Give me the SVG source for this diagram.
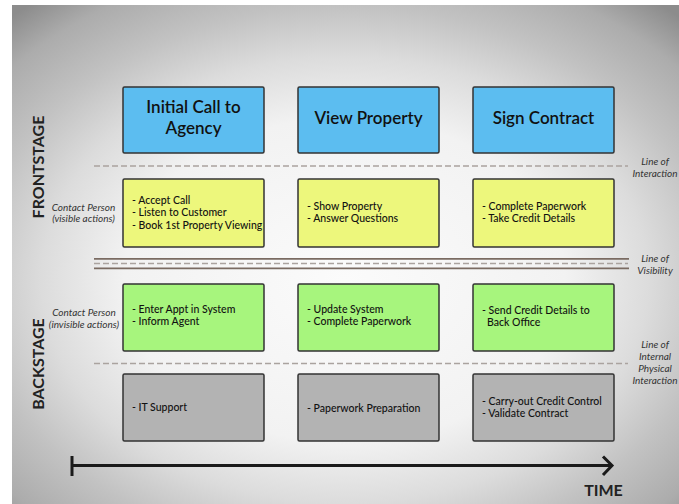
<svg xmlns="http://www.w3.org/2000/svg" width="679" height="504" viewBox="0 0 679 504">
<defs>
<radialGradient id="bg" gradientUnits="userSpaceOnUse" cx="345" cy="280" r="360" gradientTransform="translate(345 280) scale(1.36 1) translate(-345 -280)">
<stop offset="0" stop-color="#fbfbfb"/>
<stop offset="0.45" stop-color="#f2f2f2"/>
<stop offset="0.62" stop-color="#dcdcdc"/>
<stop offset="0.76" stop-color="#c2c2c2"/>
<stop offset="0.9" stop-color="#acacac"/>
<stop offset="1" stop-color="#8c8c8c"/>
</radialGradient>
<style>
.box{stroke:#333;stroke-width:1.5}
.blue{fill:#5cbdf0}
.yel{fill:#edf77c}
.grn{fill:#a7f57d}
.gry{fill:#b3b3b3}
.title{font-family:Lato,"Open Sans",sans-serif;font-size:17px;font-weight:600;fill:#111;text-anchor:middle}
.item{font-family:Lato,"Open Sans",sans-serif;font-size:10.5px;font-weight:500;fill:#111}
.lab{font-family:Lato,"Open Sans",sans-serif;font-size:10px;font-style:italic;fill:#333;text-anchor:middle}
.stage{font-family:Lato,"Open Sans",sans-serif;font-size:16px;font-weight:bold;fill:#222;text-anchor:middle}
.dash{stroke:#aaa39f;stroke-width:1.5;stroke-dasharray:6 3;fill:none}
.solid{stroke:#7a6b62;stroke-width:1.8;fill:none}
</style>
</defs>
<rect x="0" y="0" width="679" height="504" fill="#ffffff"/>
<rect x="12" y="5" width="667" height="499" fill="url(#bg)"/>

<g id="connectors">
<line class="dash" x1="94" y1="166" x2="628" y2="166"/>
<line class="solid" x1="94" y1="258.8" x2="629" y2="258.8"/>
<line class="dash" x1="94" y1="263.5" x2="628" y2="263.5"/>
<line class="solid" x1="94" y1="268.3" x2="629" y2="268.3"/>
<line class="dash" x1="94" y1="363.5" x2="628" y2="363.5"/>
<g id="time-axis" stroke="#1a1a1a" stroke-width="3" fill="none">
<line x1="72" y1="456" x2="72" y2="476"/>
<line x1="72" y1="465.5" x2="611" y2="465.5"/>
<polyline points="603,456.5 612,465.5 603,475" stroke-linejoin="miter"/>
</g>
</g>

<g id="stage-labels">
<text class="stage" transform="translate(44 167) rotate(-90)">FRONTSTAGE</text>
<text class="stage" transform="translate(44 364) rotate(-90)">BACKSTAGE</text>
<text class="lab" x="83.5" y="210.5">Contact Person</text>
<text class="lab" x="83.5" y="222">(visible actions)</text>
<text class="lab" x="84" y="315.5">Contact Person</text>
<text class="lab" x="84" y="327.5">(invisible actions)</text>
</g>

<g id="line-labels">
<text class="lab" x="655" y="164.5">Line of</text>
<text class="lab" x="655" y="176.5">Interaction</text>
<text class="lab" x="655" y="261.5">Line of</text>
<text class="lab" x="655" y="273.5">Visibility</text>
<text class="lab" x="655" y="347.5">Line of</text>
<text class="lab" x="655" y="360">Internal</text>
<text class="lab" x="655" y="371.5">Physical</text>
<text class="lab" x="655" y="383.5">Interaction</text>
</g>

<g id="node-initial-call">
<rect class="box blue" x="123" y="87" width="141" height="66" rx="1.5"/>
<text class="title" x="193.5" y="113">Initial Call to</text>
<text class="title" x="193.5" y="134">Agency</text>
</g>
<g id="node-view-property">
<rect class="box blue" x="298" y="87" width="141" height="66" rx="1.5"/>
<text class="title" x="368.5" y="123.5">View Property</text>
</g>
<g id="node-sign-contract">
<rect class="box blue" x="473" y="87" width="141" height="66" rx="1.5"/>
<text class="title" x="543.5" y="123.5">Sign Contract</text>
</g>

<g id="node-visible-1">
<rect class="box yel" x="123" y="179" width="141" height="68" rx="1.5"/>
<text class="item" x="132" y="203.5">- Accept Call</text>
<text class="item" x="132" y="216">- Listen to Customer</text>
<text class="item" x="132" y="228.5">- Book 1st Property Viewing</text>
</g>
<g id="node-visible-2">
<rect class="box yel" x="298" y="179" width="141" height="68" rx="1.5"/>
<text class="item" x="307" y="209.5">- Show Property</text>
<text class="item" x="307" y="222">- Answer Questions</text>
</g>
<g id="node-visible-3">
<rect class="box yel" x="473" y="179" width="141" height="68" rx="1.5"/>
<text class="item" x="482" y="209.5">- Complete Paperwork</text>
<text class="item" x="482" y="222">- Take Credit Details</text>
</g>

<g id="node-invisible-1">
<rect class="box grn" x="123" y="284" width="141" height="67" rx="1.5"/>
<text class="item" x="132" y="312.5">- Enter Appt in System</text>
<text class="item" x="132" y="325">- Inform Agent</text>
</g>
<g id="node-invisible-2">
<rect class="box grn" x="298" y="284" width="141" height="67" rx="1.5"/>
<text class="item" x="307" y="312.5">- Update System</text>
<text class="item" x="307" y="325">- Complete Paperwork</text>
</g>
<g id="node-invisible-3">
<rect class="box grn" x="473" y="284" width="141" height="67" rx="1.5"/>
<text class="item" x="482" y="313.5">- Send Credit Details to</text>
<text class="item" x="487" y="326">Back Office</text>
</g>

<g id="node-support-1">
<rect class="box gry" x="123" y="374" width="141" height="67" rx="1.5"/>
<text class="item" x="132" y="411">- IT Support</text>
</g>
<g id="node-support-2">
<rect class="box gry" x="298" y="374" width="141" height="67" rx="1.5"/>
<text class="item" x="307" y="411.5">- Paperwork Preparation</text>
</g>
<g id="node-support-3">
<rect class="box gry" x="473" y="374" width="141" height="67" rx="1.5"/>
<text class="item" x="482" y="404.5">- Carry-out Credit Control</text>
<text class="item" x="482" y="417">- Validate Contract</text>
</g>

<text class="stage" x="603.5" y="496" font-size="15">TIME</text>
</svg>
